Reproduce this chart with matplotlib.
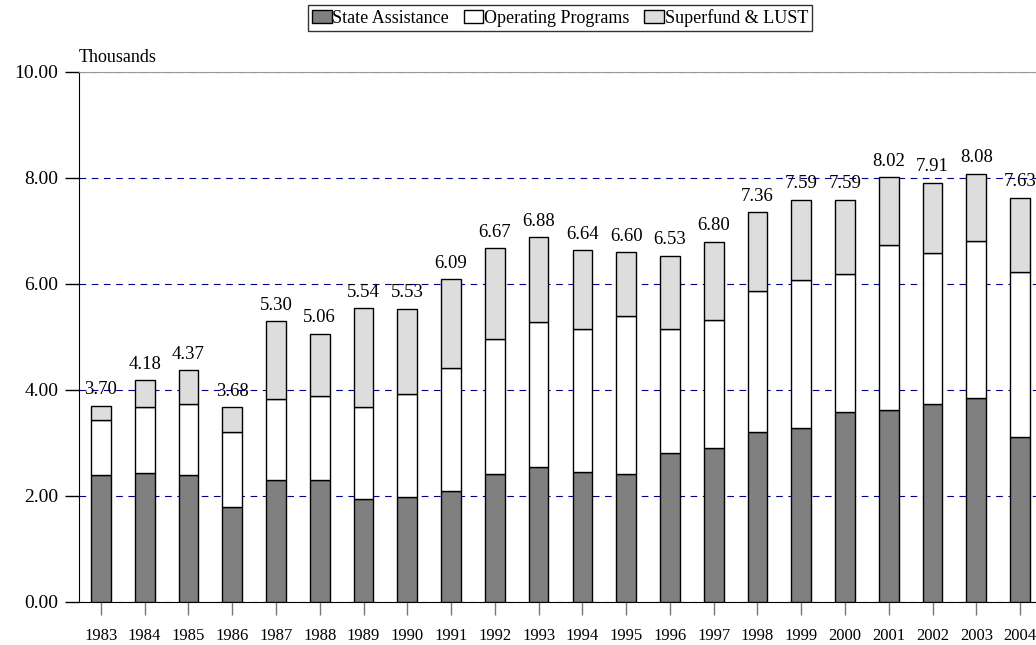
import matplotlib
matplotlib.use("Agg")
import matplotlib.pyplot as plt
import numpy as np

plt.rcParams['font.family'] = ['Liberation Serif', 'DejaVu Serif']

# data (thousands)
years = ['1983', '1984', '1985', '1986', '1987', '1988', '1989', '1990', '1991', '1992', '1993',
         '1994', '1995', '1996', '1997', '1998', '1999', '2000', '2001', '2002', '2003', '2004']
state_assistance = [2.40, 2.43, 2.40, 1.80, 2.30, 2.31, 1.94, 1.99, 2.09, 2.41, 2.55,
                    2.45, 2.41, 2.81, 2.91, 3.21, 3.28, 3.58, 3.62, 3.74, 3.84, 3.12]
operating_programs = [1.04, 1.24, 1.34, 1.41, 1.53, 1.58, 1.74, 1.93, 2.32, 2.56, 2.74,
                      2.70, 2.99, 2.35, 2.42, 2.65, 2.80, 2.60, 3.12, 2.85, 2.98, 3.11]
superfund_lust = [0.26, 0.51, 0.63, 0.47, 1.47, 1.17, 1.86, 1.61, 1.68, 1.70, 1.59,
                  1.49, 1.20, 1.37, 1.47, 1.50, 1.51, 1.41, 1.28, 1.32, 1.26, 1.40]

x = np.arange(len(years))
s = np.array(state_assistance)
o = np.array(operating_programs)
f = np.array(superfund_lust)
totals = s + o + f

fig = plt.figure(figsize=(10.36, 6.45), dpi=100)
ax = fig.add_axes([79 / 1036, 43 / 645, 963 / 1036, 530 / 645])

w = 0.45
ax.bar(x, s, w, color='#808080', edgecolor='black', linewidth=1, label='State Assistance', zorder=3)
ax.bar(x, o, w, bottom=s, color='white', edgecolor='black', linewidth=1, label='Operating Programs', zorder=3)
ax.bar(x, f, w, bottom=s + o, color='#dddddd', edgecolor='black', linewidth=1, label='Superfund & LUST', zorder=3)

for xi, t in zip(x, totals):
    ax.text(xi, t + 0.14, '%.2f' % t, ha='center', va='bottom', fontsize=13.5, zorder=4)

ax.set_xlim(-0.5, len(years) - 0.5)
ax.set_ylim(0, 10)
ax.set_yticks(np.arange(0, 10.1, 2))
ax.set_yticklabels(['%.2f' % v for v in np.arange(0, 10.1, 2)], fontsize=14)
ax.set_xticks(x)
ax.set_xticklabels(years, fontsize=12)

ax.yaxis.grid(True, color='#00008b', linestyle=(0, (6, 5)), linewidth=0.8, zorder=1)
ax.spines['right'].set_visible(False)
ax.spines['top'].set_color('#999999')
ax.tick_params(axis='y', direction='out', length=10, width=1, pad=5)
ax.tick_params(axis='x', direction='out', length=9, width=1, color='#777777', pad=10)

ax.text(0.0, 1.012, 'Thousands', transform=ax.transAxes, fontsize=13, ha='left', va='bottom')

fig.legend(loc='upper center', bbox_to_anchor=(560 / 1036, 1.0), ncol=3, fontsize=13,
           frameon=True, fancybox=False, edgecolor='black', handlelength=1.1, handleheight=0.75,
           handletextpad=0.05, columnspacing=0.8, borderpad=0.2, borderaxespad=0.3)

plt.savefig('out.png', dpi=100)
